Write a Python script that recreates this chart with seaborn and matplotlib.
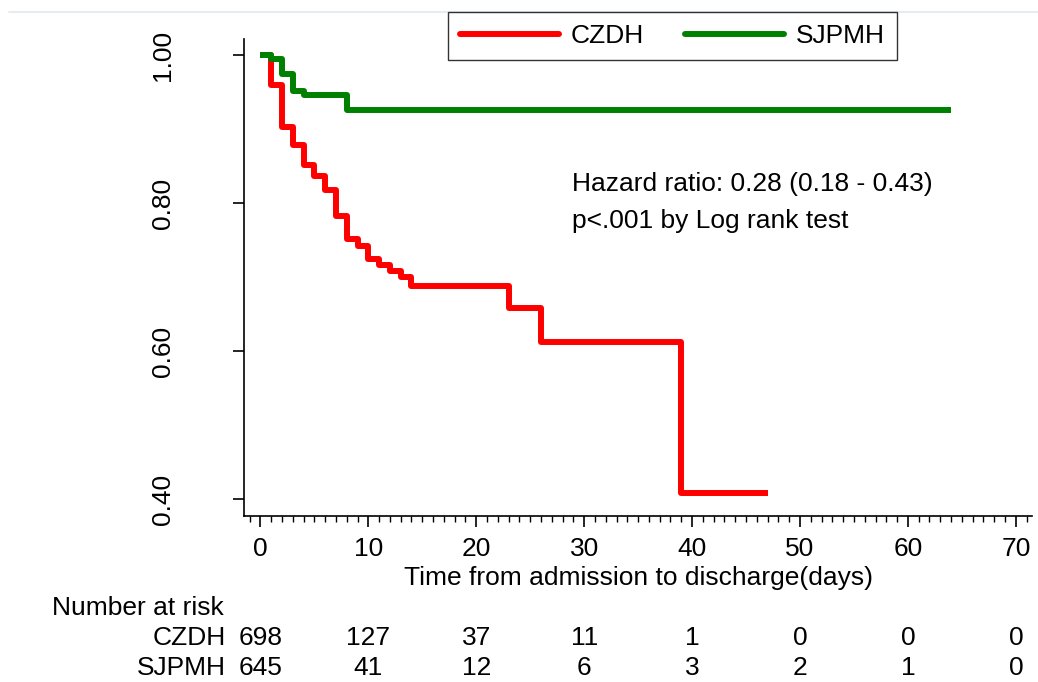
import numpy as np
import pandas as pd
import matplotlib
matplotlib.use("Agg")
import matplotlib.pyplot as plt
from matplotlib.lines import Line2D
from matplotlib.ticker import MultipleLocator, FixedLocator
import matplotlib.transforms as mtransforms
import seaborn as sns

# ---- data ----
groups = ["CZDH", "SJPMH"]
czdh_time = [0, 1, 2, 3, 4, 5, 6, 7, 8, 9, 10, 11, 12, 13, 14, 23, 26, 39, 47]
czdh_surv = [1.0, 0.959, 0.903, 0.879, 0.851, 0.837, 0.818, 0.782, 0.751, 0.742,
             0.725, 0.716, 0.709, 0.700, 0.688, 0.658, 0.612, 0.409, 0.409]
sjpmh_time = [0, 1, 2, 3, 4, 8, 64]
sjpmh_surv = [1.0, 0.994, 0.975, 0.951, 0.946, 0.926, 0.926]

x_ticks = [0, 10, 20, 30, 40, 50, 60, 70]
y_ticks = [0.40, 0.60, 0.80, 1.00]
y_tick_labels = ["0.40", "0.60", "0.80", "1.00"]
risk_czdh = [698, 127, 37, 11, 1, 0, 0, 0]
risk_sjpmh = [645, 41, 12, 6, 3, 2, 1, 0]

hr_text = "Hazard ratio: 0.28 (0.18 - 0.43)"
p_text = "p<.001 by Log rank test"
x_label = "Time from admission to discharge(days)"

colors = {"CZDH": "#ff0000", "SJPMH": "#008000"}

df = pd.concat([
    pd.DataFrame({"time": czdh_time, "surv": czdh_surv, "group": "CZDH"}),
    pd.DataFrame({"time": sjpmh_time, "surv": sjpmh_surv, "group": "SJPMH"}),
], ignore_index=True)

sns.set_theme(style="white")
plt.rcParams["font.family"] = ["Liberation Sans", "DejaVu Sans"]
plt.rcParams["text.color"] = "black"
plt.rcParams["axes.labelcolor"] = "black"
plt.rcParams["xtick.color"] = "black"
plt.rcParams["ytick.color"] = "black"

FS = 19

fig = plt.figure(figsize=(10.38, 6.82), dpi=100)
ax = fig.add_axes([244 / 1038, 1 - 516 / 682, (1032 - 244) / 1038, (516 - 39) / 682])

sns.lineplot(data=df, x="time", y="surv", hue="group", hue_order=groups,
             palette=colors, estimator=None, drawstyle="steps-post",
             linewidth=4.3, ax=ax, legend=False, sort=True)
for ln in ax.lines:
    ln.set_solid_joinstyle("round")
    ln.set_solid_capstyle("butt")

ax.set_xlim(-1.52, 71.5)
ax.set_ylim(0.3775, 1.0216)

for s in ["top", "right"]:
    ax.spines[s].set_visible(False)
for s in ["left", "bottom"]:
    ax.spines[s].set_color("black")
    ax.spines[s].set_linewidth(1.2)

ax.xaxis.set_major_locator(FixedLocator(x_ticks))
ax.xaxis.set_minor_locator(MultipleLocator(1))
ax.set_xticklabels([str(v) for v in x_ticks])
ax.yaxis.set_major_locator(FixedLocator(y_ticks))
ax.set_yticklabels(y_tick_labels, rotation=90, va="center")
ax.tick_params(axis="x", which="major", direction="out", length=8, width=1.2,
               labelsize=FS, pad=7, bottom=True)
ax.tick_params(axis="x", which="minor", direction="out", length=4, width=1.0,
               bottom=True)
ax.tick_params(axis="y", which="major", direction="out", length=8, width=1.2,
               labelsize=FS, pad=42, left=True)
ax.set_xlabel(x_label, fontsize=FS, labelpad=4)
ax.set_ylabel("")
ax.grid(False)

# annotation texts
ax.text(0.416, 0.696, hr_text, transform=ax.transAxes, fontsize=FS, va="center", ha="left")
ax.text(0.416, 0.618, p_text, transform=ax.transAxes, fontsize=FS, va="center", ha="left")

# legend
handles = [Line2D([0], [0], color=colors[g], lw=4.3) for g in groups]
leg = fig.legend(handles, groups, loc="upper left",
                 bbox_to_anchor=(448 / 1038, 1 - 12 / 682), ncol=2,
                 frameon=True, fancybox=False, edgecolor="black", fontsize=FS,
                 handlelength=3.75, handletextpad=0.45, columnspacing=1.55,
                 borderpad=0.45, borderaxespad=0)
leg.get_frame().set_linewidth(1.0)

# top thin border line
fig.add_artist(Line2D([9 / 1038, 1.0], [1 - 12 / 682, 1 - 12 / 682],
                      color="#e6edf2", lw=1.5, transform=fig.transFigure, zorder=0))

# number at risk table
trans = mtransforms.blended_transform_factory(ax.transData, fig.transFigure)
fig.text(52 / 1038, 1 - 608 / 682, "Number at risk", fontsize=FS, va="center", ha="left")
fig.text(226 / 1038, 1 - 638 / 682, "CZDH", fontsize=FS, va="center", ha="right")
fig.text(226 / 1038, 1 - 668 / 682, "SJPMH", fontsize=FS, va="center", ha="right")
for xv, n1, n2 in zip(x_ticks, risk_czdh, risk_sjpmh):
    ax.text(xv, 1 - 638 / 682, str(n1), transform=trans, fontsize=FS,
            va="center", ha="center", clip_on=False)
    ax.text(xv, 1 - 668 / 682, str(n2), transform=trans, fontsize=FS,
            va="center", ha="center", clip_on=False)

fig.savefig("out.png", dpi=100, facecolor="white")
